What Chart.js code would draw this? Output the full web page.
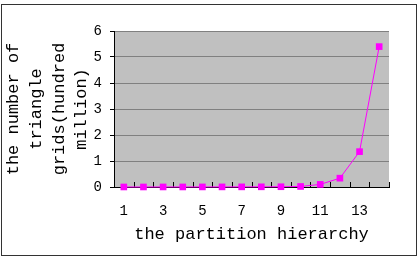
<!DOCTYPE html>
<html><head><meta charset="utf-8">
<script src="https://cdn.jsdelivr.net/npm/chart.js@4/dist/chart.umd.min.js"></script>
<style>
html,body{margin:0;padding:0;background:#fff;}
#wrap{position:relative;width:419px;height:256px;}
#frame{position:absolute;left:1px;top:4px;width:414px;height:250px;border:1px solid #333;pointer-events:none;}
canvas{position:absolute;left:0;top:0;}
</style></head>
<body>
<div id="wrap"><canvas id="c" width="419" height="256"></canvas><div id="frame"></div></div>
<script>
const categories = ['1','2','3','4','5','6','7','8','9','10','11','12','13','14'];
const values = [0.001,0.001,0.002,0.002,0.003,0.004,0.005,0.007,0.01,0.02,0.1,0.34,1.36,5.4];
const yTicks = [0,1,2,3,4,5,6];
const xTitle = 'the partition hierarchy';
const yTitle = ['the number of','triangle','grids(hundred','million)'];

const FONT = "'Liberation Mono', 'DejaVu Sans Mono', monospace";

const bgPlugin = {
  id: 'bg',
  beforeDraw(chart) {
    const {ctx, chartArea: a} = chart;
    ctx.save();
    ctx.fillStyle = '#c0c0c0';
    ctx.fillRect(a.left, a.top, a.right - a.left, a.bottom - a.top);
    ctx.restore();
  },
  beforeDatasetsDraw(chart) {
    const {ctx, chartArea: a} = chart;
    const xs = chart.scales.x;
    ctx.save();
    ctx.strokeStyle = '#000';
    ctx.lineWidth = 1;
    ctx.beginPath();
    for (let i = 0; i <= categories.length; i++) {
      const x = Math.round(xs.getPixelForValue(i - 0.5)) + 0.5;
      ctx.moveTo(x, a.bottom);
      ctx.lineTo(x, a.bottom - 5);
    }
    ctx.stroke();
    ctx.restore();
  }
};

new Chart(document.getElementById('c'), {
  type: 'line',
  data: {
    labels: categories,
    datasets: [{
      data: values,
      borderColor: '#ff00ff',
      backgroundColor: '#ff00ff',
      borderWidth: 1,
      pointStyle: 'rect',
      pointRadius: 4.7,
      pointHoverRadius: 4.7,
      pointBorderWidth: 0,
      tension: 0,
      clip: false
    }]
  },
  options: {
    responsive: false,
    animation: false,
    events: [],
    layout: {padding: {left: 0, top: 31, right: 30, bottom: 0}},
    plugins: {legend: {display: false}, tooltip: {enabled: false}},
    scales: {
      x: {
        offset: true,
        afterFit(s) { s.height = 69; },
        border: {display: true, color: '#000', width: 1},
        grid: {display: true, drawOnChartArea: false, drawTicks: false, color: 'rgba(0,0,0,0)'},
        ticks: {
          autoSkip: false, maxRotation: 0, padding: 16,
          color: '#000', font: {family: FONT, size: 14},
          callback(v, i) { return i % 2 === 0 ? categories[i] : ''; }
        },
        title: {display: true, text: xTitle, color: '#000', font: {family: FONT, size: 17}, padding: {top: 0, bottom: 11}}
      },
      y: {
        min: 0, max: 6,
        afterFit(s) { s.width = 114; },
        afterBuildTicks(s) { s.ticks = yTicks.map(v => ({value: v})); },
        border: {display: true, color: '#000', width: 1},
        grid: {color: '#808080', tickColor: '#000', tickLength: 4, lineWidth: 1},
        ticks: {padding: 8, color: '#000', font: {family: FONT, size: 14}},
        title: {display: true, text: yTitle, color: '#000', font: {family: FONT, size: 17, lineHeight: 1.335}, padding: {top: 2.5, bottom: 0}}
      }
    }
  },
  plugins: [bgPlugin]
});
</script>
</body></html>
